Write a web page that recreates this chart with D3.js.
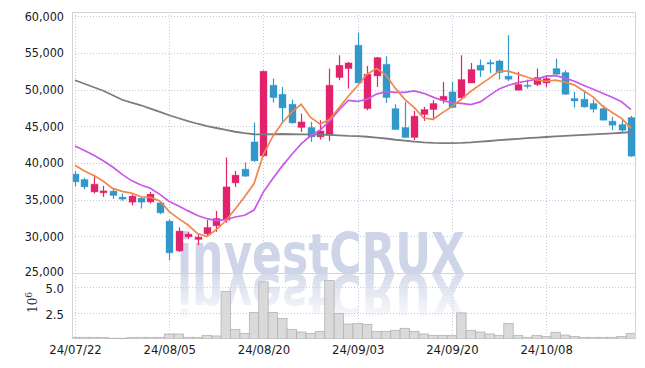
<!DOCTYPE html>
<html lang="en">
<head>
<meta charset="UTF-8">
<title>investCRUX chart</title>
<script src="https://cdn.jsdelivr.net/npm/d3@7"></script>
<style>
    body { margin: 0; background: #fff; }
    svg { display: block; }
</style>
</head>
<body>
<svg id="chart" width="645" height="368"></svg>
<script>
    // trading days, 24/07/22 .. 24/10/22
    var dates = ["24/07/22","24/07/23","24/07/24","24/07/25","24/07/26","24/07/29","24/07/30","24/07/31","24/08/01","24/08/02",
        "24/08/05","24/08/06","24/08/07","24/08/08","24/08/09","24/08/12","24/08/13","24/08/14","24/08/16","24/08/19",
        "24/08/20","24/08/21","24/08/22","24/08/23","24/08/26","24/08/27","24/08/28","24/08/29","24/08/30","24/09/02",
        "24/09/03","24/09/04","24/09/05","24/09/06","24/09/09","24/09/10","24/09/11","24/09/12","24/09/13","24/09/19",
        "24/09/20","24/09/23","24/09/24","24/09/25","24/09/26","24/09/27","24/09/30","24/10/02","24/10/04","24/10/07",
        "24/10/08","24/10/10","24/10/11","24/10/14","24/10/15","24/10/16","24/10/17","24/10/18","24/10/21","24/10/22"];
    var opens = [38480,37750,36060,35930,36160,35340,34660,35200,34700,34570,
        32070,28020,29930,29570,30340,31430,32210,37290,39150,42875,
        40970,50600,49370,48010,44840,44840,43560,43790,51650,52870,
        56050,47420,51870,53460,47420,44840,43480,46610,47290,48560,
        49690,48870,50910,53320,53690,53910,51830,49920,50600,50700,
        50910,52870,52330,48790,48690,48110,47420,45700,45240,46200];
    var highs = [38930,37970,38380,36880,36530,35845,35710,35340,36060,34800,
        32340,31210,30610,30400,32210,33470,40750,38920,40070,45520,
        52600,51510,50370,48650,46740,45600,45830,52870,54690,53780,
        57780,53230,54450,54550,48010,48320,47100,47640,48560,51050,
        51050,54690,53640,54100,54100,54100,57410,52410,51380,52870,
        51960,54230,52640,49690,49690,48650,47870,46280,45830,46420];
    var lows = [36840,36390,35845,35380,35110,34840,34210,33800,34480,33025,
        26760,27850,29620,28800,30070,30610,31840,36740,38110,40150,
        40800,48240,45600,45380,44240,42870,43200,43010,51280,50150,
        50900,47190,50370,48190,44500,43450,43110,45730,45830,48110,
        47500,48800,50910,51730,52270,51380,51190,49900,50150,50500,
        50370,52050,49300,47560,47560,46880,45830,44470,44240,40830];
    var closes = [37430,36744,37110,36200,35570,35070,35477,34660,35750,33200,
        27750,30710,30300,29900,31210,32440,36744,38340,38200,40290,
        52510,48920,47510,45460,45600,43560,44370,50600,53320,53640,
        50910,52100,54370,48920,44560,43480,46380,47290,48110,49100,
        47560,51380,52740,52640,53500,52330,51420,50700,50460,51650,
        51510,52100,49370,48460,47640,47330,45830,45150,44470,40930];
    // volume, millions of shares
    var volume = [0.16,0.16,0.16,0.13,0.07,0.07,0.13,0.16,0.16,0.16,
        0.48,0.48,0.16,0.16,0.35,0.29,4.54,0.92,0.54,2.54,
        5.46,2.54,1.97,0.92,0.67,0.54,0.73,5.6,2.45,1.43,
        1.49,1.4,0.73,0.73,0.83,1.02,0.73,0.48,0.35,0.35,
        0.35,2.5,0.83,0.67,0.48,0.35,1.49,0.35,0.16,0.35,
        0.25,0.64,0.38,0.25,0.16,0.16,0.16,0.16,0.25,0.54];
    // moving averages as drawn
    var ma5 = [39700,38900,38300,37500,36531,36139,35885,35395,35305,34831,
        33367,32414,31542,30372,29974,30912,32119,33727,35387,37203,
        41217,43652,45486,46938,48000,46210,45300,45918,47490,49098,
        50568,52114,52868,51988,50172,48686,47542,46126,45964,46872,
        47688,48688,49778,50684,51564,52518,52526,52118,51682,51312,
        51148,51284,51018,50618,49816,48980,47726,46882,46084,44742];
    var ma10 = [42330,41700,41050,40300,39450,38450,37600,37000,36550,35721,
        34753,34150,33469,32839,32403,32140,32266,32634,32879,33588,
        36064,37885,39606,41162,42601,43713,44476,45702,47214,48549,
        48389,48707,49393,49739,49635,49627,49828,49497,48976,48522,
        48187,48115,47952,48324,49218,50103,50607,50948,51183,51438,
        51833,51905,51568,51150,50564,50064,49505,48950,48351,47279];
    var ma60 = [51280,50800,50330,49850,49240,48620,48220,47870,47400,46960,
        46510,46100,45700,45350,45040,44770,44500,44260,44060,43920,
        43900,43920,43950,43920,43900,43890,43860,43820,43760,43690,
        43650,43580,43470,43340,43170,43040,42900,42810,42750,42720,
        42720,42750,42810,42900,43000,43110,43200,43300,43380,43460,
        43540,43620,43700,43770,43840,43910,43980,44050,44120,44200];
    var priceTicks = [25000, 30000, 35000, 40000, 45000, 50000, 55000, 60000];
    var volTicks = [2.5, 5.0];
    var dateTicks = ["24/07/22", "24/08/05", "24/08/20", "24/09/03", "24/09/20", "24/10/08"];

    var plotL = 72, plotR = 635, plotT = 12, split = 274, plotB = 339;
    var fontAxis = '"DejaVu Sans Condensed", "DejaVu Sans", sans-serif';
    var upColor = "#e2226b", downColor = "#3298ca";

    var svg = d3.select("#chart");

    var x = d3.scalePoint().domain(dates).range([75, 631]);
    var step = x.step();
    var y = d3.scaleLinear().domain([25000, 60000]).range([273, 16.3]);
    var yv = d3.scaleLinear().domain([0, 5]).range([plotB, 286.7]);

    var defs = svg.append("defs");
    defs.append("clipPath").attr("id", "clipPrice")
        .append("rect").attr("x", plotL).attr("y", plotT).attr("width", plotR - plotL).attr("height", split - plotT);
    defs.append("clipPath").attr("id", "clipAll")
        .append("rect").attr("x", plotL).attr("y", plotT).attr("width", plotR - plotL).attr("height", plotB - plotT);
    var grad = defs.append("linearGradient").attr("id", "fade")
        .attr("gradientUnits", "userSpaceOnUse").attr("x1", 0).attr("y1", split).attr("x2", 0).attr("y2", 326);
    grad.append("stop").attr("offset", 0).attr("stop-color", "#fff").attr("stop-opacity", 0.85);
    grad.append("stop").attr("offset", 1).attr("stop-color", "#fff").attr("stop-opacity", 0);
    defs.append("mask").attr("id", "reflMask").attr("maskUnits", "userSpaceOnUse")
        .attr("x", 0).attr("y", split).attr("width", 645).attr("height", 100)
        .append("rect").attr("x", 0).attr("y", split).attr("width", 645).attr("height", 100).attr("fill", "url(#fade)");

    // grid
    var grid = svg.append("g").attr("stroke", "#c4c7da").attr("stroke-dasharray", "1,2").attr("stroke-width", 1);
    grid.selectAll(".hp").data(priceTicks.filter(function (d) { return d > 25000; })).enter().append("line")
        .attr("x1", plotL).attr("x2", plotR).attr("y1", function (d) { return Math.round(y(d)) + 0.5; })
        .attr("y2", function (d) { return Math.round(y(d)) + 0.5; });
    grid.selectAll(".hv").data(volTicks).enter().append("line")
        .attr("x1", plotL).attr("x2", plotR).attr("y1", function (d) { return Math.round(yv(d)) + 0.5; })
        .attr("y2", function (d) { return Math.round(yv(d)) + 0.5; });
    grid.selectAll(".vx").data(dateTicks).enter().append("line")
        .attr("x1", function (d) { return Math.round(x(d)) + 0.5; })
        .attr("x2", function (d) { return Math.round(x(d)) + 0.5; })
        .attr("y1", plotT).attr("y2", plotB);

    // watermark and its reflection
    var wm = svg.append("g").attr("font-family", '"DejaVu Sans Condensed", "DejaVu Sans", sans-serif')
        .attr("font-weight", "bold").attr("font-size", 57).attr("fill", "#cfd5e8");
    wm.append("text").attr("x", 177).attr("y", split).attr("textLength", 288).attr("lengthAdjust", "spacingAndGlyphs")
        .text("investCRUX");
    wm.append("g").attr("mask", "url(#reflMask)")
        .append("text").attr("x", 177).attr("y", split)
        .attr("transform", "translate(0," + (2 * split) + ") scale(1,-1)")
        .attr("textLength", 288).attr("lengthAdjust", "spacingAndGlyphs")
        .text("investCRUX");

    // volume bars
    svg.append("g").attr("clip-path", "url(#clipAll)")
        .selectAll("rect").data(volume).enter().append("rect")
        .attr("x", function (d, i) { return x(dates[i]) - step / 2; })
        .attr("width", step)
        .attr("y", function (d) { return yv(d); })
        .attr("height", function (d) { return plotB - yv(d); })
        .attr("fill", "#d6d6d6").attr("fill-opacity", 0.9)
        .attr("stroke", "#b4b4b4").attr("stroke-width", 0.8);

    // candles
    var candles = svg.append("g").attr("clip-path", "url(#clipPrice)");
    var bodyW = 7;
    dates.forEach(function (d, i) {
        var c = closes[i] >= opens[i] ? upColor : downColor;
        var cx = Math.round(x(d)) + 0.5;
        candles.append("line").attr("x1", cx).attr("x2", cx)
            .attr("y1", y(highs[i])).attr("y2", y(lows[i]))
            .attr("stroke", c).attr("stroke-width", 1.2);
        var yt = y(Math.max(opens[i], closes[i])), yb = y(Math.min(opens[i], closes[i]));
        candles.append("rect").attr("x", cx - bodyW / 2).attr("width", bodyW)
            .attr("y", yt).attr("height", Math.max(1.2, yb - yt))
            .attr("fill", c).attr("stroke", c).attr("stroke-opacity", 0.35).attr("stroke-width", 1);
    });

    // moving averages
    var line = d3.line().x(function (d, i) { return x(dates[i]); }).y(function (d) { return y(d); });
    var lines = svg.append("g").attr("clip-path", "url(#clipPrice)").attr("fill", "none");
    lines.append("path").attr("d", line(ma60)).attr("stroke", "#7c7c7c").attr("stroke-width", 1.8);
    lines.append("path").attr("d", line(ma10)).attr("stroke", "#c95ae8").attr("stroke-width", 1.7);
    lines.append("path").attr("d", line(ma5)).attr("stroke", "#f0874c").attr("stroke-width", 1.7);

    // frame
    var frame = svg.append("g").attr("stroke", "#d2d2d8").attr("fill", "none");
    frame.append("path").attr("d", "M" + (plotL + 0.5) + "," + plotB + "V" + (plotT + 0.5) + "H" + (plotR + 0.5) + "V" + plotB);
    frame.append("line").attr("x1", plotL).attr("x2", plotR).attr("y1", split - 0.5).attr("y2", split - 0.5);

    // axes
    var axPrice = svg.append("g").attr("transform", "translate(" + plotL + ",0)")
        .call(d3.axisLeft(y).tickValues(priceTicks).tickFormat(d3.format(",")).tickSize(0).tickPadding(8));
    var axVol = svg.append("g").attr("transform", "translate(" + plotL + ",1.5)")
        .call(d3.axisLeft(yv).tickValues(volTicks).tickFormat(d3.format(".1f")).tickSize(0).tickPadding(8));
    var axDate = svg.append("g").attr("transform", "translate(0," + (plotB + 2) + ")")
        .call(d3.axisBottom(x).tickValues(dateTicks).tickSize(0).tickPadding(4));
    [axPrice, axVol, axDate].forEach(function (g) {
        g.select(".domain").remove();
        g.selectAll("text").attr("font-family", fontAxis).attr("font-size", 13).attr("fill", "#1a1a1a");
    });
    axPrice.selectAll("text").attr("font-size", 12.5);
    axPrice.selectAll(".tick").filter(function (d) { return d === 25000; }).select("text").attr("dy", "0.2em");

    // 10^6 unit label
    var unit = svg.append("text").attr("transform", "translate(37,313) rotate(-90)")
        .attr("font-family", '"DejaVu Serif", serif').attr("font-size", 12).attr("fill", "#333");
    unit.append("tspan").text("10");
    unit.append("tspan").attr("font-size", 9).attr("dy", -5).text("6");
</script>
</body>
</html>
